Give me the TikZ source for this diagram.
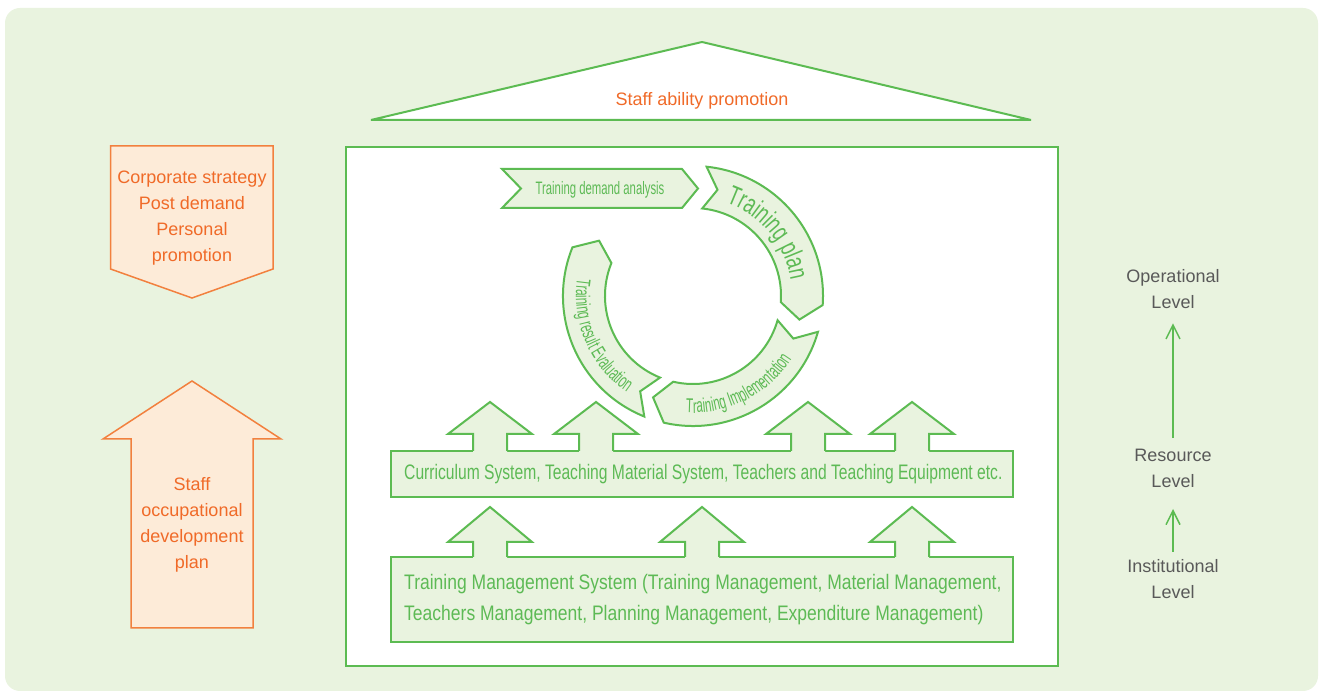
\documentclass[tikz,border=0pt]{standalone}
\usepackage{fontspec}
\setmainfont{Liberation Sans}
\newfontfamily\fA[FakeStretch=0.745]{Liberation Sans}
\newfontfamily\fB[FakeStretch=0.834]{Liberation Sans}
\newfontfamily\fC[FakeStretch=0.63]{Liberation Sans}
\newfontfamily\fD[FakeStretch=0.58]{Liberation Sans}
\newfontfamily\fE[FakeStretch=0.68]{Liberation Sans}
\usetikzlibrary{arrows.meta,decorations.text}
\definecolor{bgc}{HTML}{E9F3DF}
\definecolor{lfill}{HTML}{E9F3DF}
\definecolor{gline}{HTML}{5CBB52}
\definecolor{gtext}{HTML}{5DBA55}
\definecolor{oline}{HTML}{F2803E}
\definecolor{ofill}{HTML}{FDEBD8}
\definecolor{otext}{HTML}{F06A28}
\definecolor{gytext}{HTML}{595959}
\newcommand\boxarrow[4]{%
  \fill[lfill] ({#1-17},{#4-1.5}) -- ({#1-17},#3) -- ({#1-42},#3) -- (#1,#2) -- ({#1+42},#3) -- ({#1+17},#3) -- ({#1+17},{#4-1.5}) -- cycle;
  \draw[gl, line join=miter] ({#1-17},#4) -- ({#1-17},#3) -- ({#1-42},#3) -- (#1,#2) -- ({#1+42},#3) -- ({#1+17},#3) -- ({#1+17},#4);}
\newcommand\cyclearrow[2]{%
  \filldraw[cyc] (#1:130pt) arc[start angle=#1, end angle=#2, radius=130pt] -- ({#2-8.5}:109pt) -- (#2:88pt) arc[start angle=#2, end angle=#1, radius=88pt] -- ({#1-7}:109pt) -- cycle;}
\begin{document}
\begin{tikzpicture}[x=1pt,y=1pt,
  gl/.style={draw=gline, line width=2pt},
  cyc/.style={fill=lfill, draw=gline, line width=2pt, line join=miter},
  oshape/.style={fill=ofill, draw=oline, line width=1.5pt},
  otxt/.style={text=otext, font=\fontsize{18}{26}\selectfont, align=center, inner sep=0pt},
  gytxt/.style={text=gytext, font=\fontsize{18}{26}\selectfont, align=center, inner sep=0pt},
  lvarrow/.style={draw=gline, line width=1.5pt, -{Straight Barb[length=14pt,width=14pt]}},
]
\useasboundingbox (0,0) rectangle (1320,693);
\fill[bgc, rounded corners=15pt] (5,2) rectangle (1318,685);

% roof
\filldraw[fill=white, draw=gline, line width=2pt, line join=bevel] (371,573) -- (702,651) -- (1031,573) -- cycle;
\node[otxt, anchor=base] (roof) at (702,587.5) {Staff ability promotion};

% main box
\draw[draw=gline, line width=1.5pt, fill=white] (346,27) rectangle (1058,546);

% left orange shapes
\filldraw[oshape] (110.5,547) -- (273,547) -- (273,424) -- (192,395) -- (110.5,424) -- cycle;
\node[otxt] (goals) at (192,474.6) {Corporate strategy\\Post demand\\Personal\\promotion};
\filldraw[oshape] (131,65) -- (131,254) -- (103,254) -- (192,312) -- (281,254) -- (253,254) -- (253,65) -- cycle;
\node[otxt] (plan) at (192,168.6) {Staff\\occupational\\development\\plan};

% right levels
\node[gytxt] (op) at (1173,404) {Operational\\Level};
\node[gytxt] (res) at (1173,225) {Resource\\Level};
\node[gytxt] (inst) at (1173,114) {Institutional\\Level};
\draw[lvarrow, shorten <=10.5pt, shorten >=14.5pt] (res.north) -- (op.south);
\draw[lvarrow, shorten <=7.5pt, shorten >=21.5pt] (inst.north) -- (res.south);

% curriculum box
\draw[gl, fill=lfill] (391,196) rectangle (1013,242);
\boxarrow{490}{291}{259}{242}
\boxarrow{596}{291}{259}{242}
\boxarrow{808}{291}{259}{242}
\boxarrow{912}{291}{259}{242}
\node[font=\fA\fontsize{21}{31}\selectfont, text=gtext, anchor=base west, inner sep=0pt] (cur) at (404,213) {Curriculum System, Teaching Material System, Teachers and Teaching Equipment etc.};

% training management box
\draw[gl, fill=lfill] (391,51) rectangle (1013,136);
\boxarrow{490}{186}{151}{136}
\boxarrow{702}{186}{151}{136}
\boxarrow{912}{186}{151}{136}
\node[font=\fB\fontsize{21}{31}\selectfont, text=gtext, anchor=west, align=left, inner sep=0pt] (tms) at (404,93) {Training Management System (Training Management, Material Management,\\Teachers Management, Planning Management, Expenditure Management)};

% training demand analysis chevron
\filldraw[cyc] (502,524) -- (682,524) -- (698,504.5) -- (682,485) -- (502,485) -- (521,504.5) -- cycle;
\node[font=\fC\fontsize{18}{18}\selectfont, text=gtext, anchor=base, inner sep=0pt] (tda) at (600,498) {Training demand analysis};

% cycle
\begin{scope}[shift={(693,397)}]
\cyclearrow{84}{-4}
\cyclearrow{-16}{-103}
\cyclearrow{248}{158}
\path[decorate, decoration={text along path, text align=center, text color=gtext,
  text={|\fE\fontsize{27}{27}\selectfont|Training plan}}]
  (80:99pt) arc[start angle=80, end angle=0, radius=99pt];
\path[decorate, decoration={text along path, text align=center, text color=gtext,
  text={|\fD\fontsize{20}{20}\selectfont|Training Implementation}}]
  (-103:117pt) arc[start angle=-103, end angle=-23, radius=117pt];
\path[decorate, decoration={text along path, text align=center, text color=gtext,
  text={|\fD\fontsize{20}{20}\selectfont|Training result Evaluation}}]
  (163:117pt) arc[start angle=163, end angle=244, radius=117pt];
\end{scope}
\end{tikzpicture}
\end{document}
